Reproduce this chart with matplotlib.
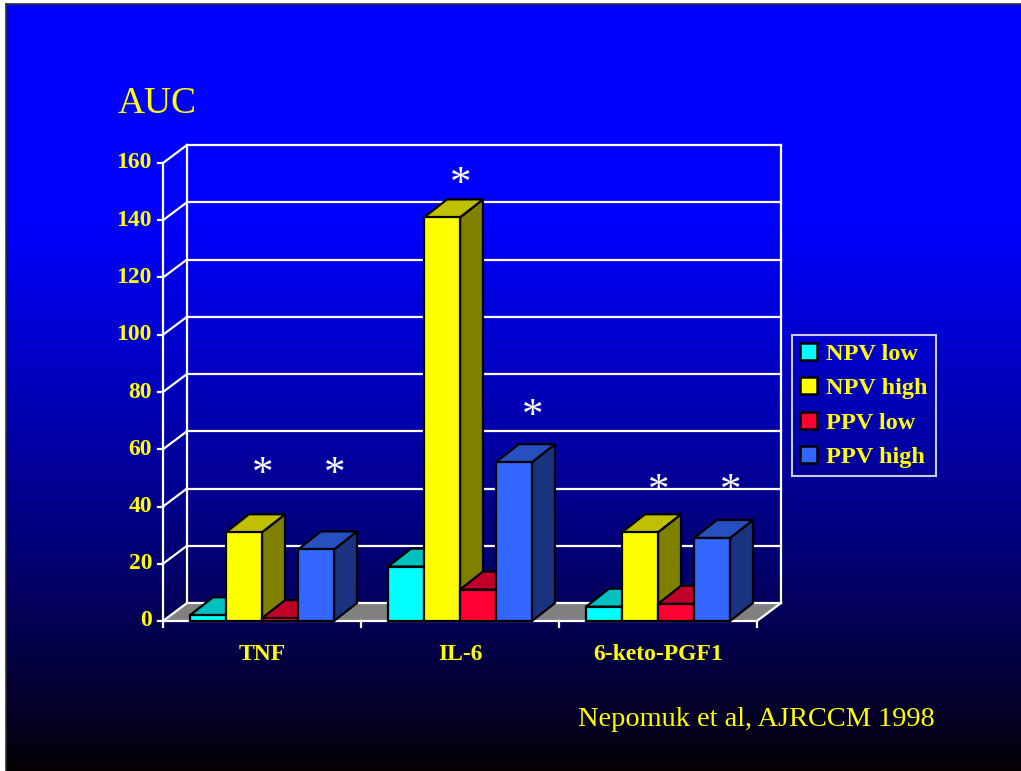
import numpy as np
import matplotlib
matplotlib.use("Agg")
import matplotlib.pyplot as plt
from matplotlib.patches import Polygon, Patch

# ---- data ----
categories = ["TNF", "IL-6", "6-keto-PGF1"]
series = ["NPV low", "NPV high", "PPV low", "PPV high"]
values = {
    "NPV low":  [2, 19, 5],
    "NPV high": [31, 141, 31],
    "PPV low":  [1, 11, 6],
    "PPV high": [25, 55.5, 29],
}
yticks = [0, 20, 40, 60, 80, 100, 120, 140, 160]
# significance marks: (category index, series index, height of the mark)
star_cat = [0, 0, 1, 1, 2, 2]
star_ser = [1, 3, 1, 3, 1, 3]
star_lvl = [51, 51, 152.5, 71.5, 45, 45]

# face colours: front, top, side
face_colors = {
    "NPV low":  ("#00FFFF", "#00C0C0", "#008080"),
    "NPV high": ("#FFFF00", "#C0C000", "#808000"),
    "PPV low":  ("#FF0033", "#C00028", "#800020"),
    "PPV high": ("#3366FF", "#2650C0", "#1A3380"),
}

W, H = 1021, 771
fig = plt.figure(figsize=(W / 100, H / 100), dpi=100, facecolor="white")
serif = ["Liberation Serif", "DejaVu Serif"]

# ---- background gradient ----
bg = fig.add_axes([6 / W, 0, 1 - 6 / W, (H - 4) / H])
t = np.linspace(0, 1, 767)
v = np.clip((1 - t) / 0.72, 0, 1) ** 0.85
grad = np.zeros((767, 2, 3))
grad[:, :, 2] = v[:, None]
grad[:, :, 0] = 0.02 * (1 - v[:, None])
bg.imshow(grad, aspect="auto", extent=[0, 1, 0, 1], interpolation="bilinear")
bg.set_xticks([])
bg.set_yticks([])
for s in ("right", "bottom"):
    bg.spines[s].set_visible(False)
for s in ("left", "top"):
    bg.spines[s].set_color("#303030")
    bg.spines[s].set_linewidth(1.2)

# ---- main axes: front plane of the 3D chart ----
x0p, x1p, y0p, y1p = 163, 757, 621, 163
ax = fig.add_axes([x0p / W, (H - y0p) / H, (x1p - x0p) / W, (y0p - y1p) / H])
ax.set_xlim(0, 3)
ax.set_ylim(0, 160)
ax.axis("off")
ax.patch.set_alpha(0)

px_x = (x1p - x0p) / 3.0      # pixels per category unit
px_y = (y0p - y1p) / 160.0    # pixels per value unit
WDX, WDY = 24 / px_x, 18 / px_y   # wall depth in data units
BDX, BDY = 23 / px_x, 18 / px_y   # bar depth in data units

white = "white"
glw = 1.6

# floor
floor = Polygon([(0, 0), (3, 0), (3 + WDX, WDY), (WDX, WDY)], closed=True,
                facecolor="#808080", edgecolor="none", zorder=1, clip_on=False)
ax.add_patch(floor)

# back wall gridlines, side-wall diagonals and left ticks
for yt in yticks:
    ax.plot([WDX, 3 + WDX], [yt + WDY, yt + WDY], color=white, lw=glw, zorder=2, clip_on=False)
    ax.plot([0, WDX], [yt, yt + WDY], color=white, lw=glw, zorder=2, clip_on=False)
    ax.plot([-5 / px_x, 0], [yt, yt], color=white, lw=glw, zorder=2, clip_on=False)
    ax.text(-11 / px_x, yt, str(yt), ha="right", va="center", color="#FFFF00",
            fontsize=17, fontweight="bold", family=serif, zorder=5)
# wall verticals
ax.plot([0, 0], [0, 160], color=white, lw=glw, zorder=2, clip_on=False)
ax.plot([WDX, WDX], [WDY, 160 + WDY], color=white, lw=glw, zorder=2, clip_on=False)
ax.plot([3 + WDX, 3 + WDX], [WDY, 160 + WDY], color=white, lw=glw, zorder=2, clip_on=False)
# floor front and right edges, category ticks
ax.plot([0, 3], [0, 0], color=white, lw=glw, zorder=2, clip_on=False)
ax.plot([3, 3 + WDX], [0, WDY], color=white, lw=glw, zorder=2, clip_on=False)
for xt in range(4):
    ax.plot([xt, xt], [0, -6 / px_y], color=white, lw=glw, zorder=2, clip_on=False)

# category labels
for i, c in enumerate(categories):
    ax.text(i + 0.5, -33 / px_y, c, ha="center", va="center", color="#FFFF00",
            fontsize=17, fontweight="bold", family=serif)

# ---- 3D bars ----
bw = 36 / px_x
margin = (1 - 4 * bw) / 2
z = 10
for ci in range(len(categories)):
    for si, s in enumerate(series):
        val = values[s][ci]
        left = ci + margin + si * bw
        front, top, side = face_colors[s]
        ax.bar(left, val, width=bw, align="edge", color=front, edgecolor="black",
               linewidth=1.6, zorder=z + 2, clip_on=False)
        ax.add_patch(Polygon([(left, val), (left + bw, val), (left + bw + BDX, val + BDY),
                              (left + BDX, val + BDY)], closed=True, facecolor=top,
                             edgecolor="black", linewidth=1.6, zorder=z + 1,
                             joinstyle="round", clip_on=False))
        ax.add_patch(Polygon([(left + bw, 0), (left + bw + BDX, BDY),
                              (left + bw + BDX, val + BDY), (left + bw, val)], closed=True,
                             facecolor=side, edgecolor="black", linewidth=1.6, zorder=z,
                             joinstyle="round", clip_on=False))
        z += 3

# significance asterisks
for ci, si, lvl in zip(star_cat, star_ser, star_lvl):
    xc = ci + margin + (si + 0.5) * bw + 0.8 * BDX
    ax.text(xc, lvl, "*", ha="center", va="center", color="white", fontsize=31,
            family=serif, zorder=100)

# ---- legend ----
handles = [Patch(facecolor=face_colors[s][0], edgecolor="black", linewidth=1.8) for s in series]
leg = fig.legend(handles, series, loc="upper left", bbox_to_anchor=(792 / W, 1 - 335 / H),
                 frameon=True, fancybox=False, edgecolor="white", facecolor="none",
                 prop={"family": serif, "weight": "bold", "size": 17.5},
                 handlelength=0.7, handleheight=0.7, handletextpad=0.37,
                 labelspacing=0.5, borderpad=0.34, borderaxespad=0)
leg.get_frame().set_linewidth(1.5)
for txt in leg.get_texts():
    txt.set_color("#FFFF00")

# ---- titles ----
fig.text(118 / W, 1 - 113 / H, "AUC", color="#FFFF00", fontsize=27, family=serif,
         ha="left", va="baseline")
fig.text(935 / W, 1 - 720 / H, "Nepomuk et al, AJRCCM 1998", color="#FFFF00",
         fontsize=20.4, family=serif, ha="right", va="center")

fig.savefig("out.png", dpi=100, facecolor="white")
